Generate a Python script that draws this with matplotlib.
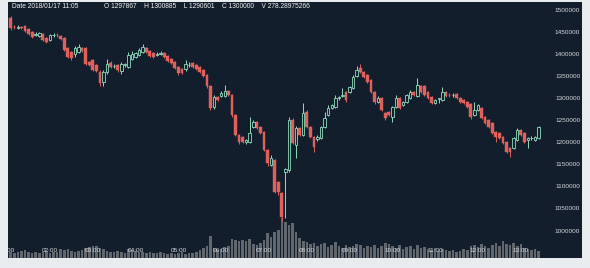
import numpy as np
import pandas as pd
import matplotlib
matplotlib.use("Agg")
import matplotlib.pyplot as plt

# ---------------- data (prices in thousands) ----------------
times = pd.date_range("2018-01-17 01:05", periods=149, freq="5min")

open_k = [1482, 1462, 1459, 1461, 1464, 1457, 1450, 1443, 1441, 1446,
          1437, 1432, 1443, 1444, 1441, 1437, 1414, 1405, 1400, 1405,
          1414, 1414, 1382, 1387, 1376, 1360, 1337, 1360, 1380, 1373,
          1376, 1362, 1376, 1371, 1389, 1394, 1398, 1405, 1414, 1407,
          1403, 1398, 1400, 1403, 1396, 1389, 1382, 1371, 1367, 1367,
          1375, 1380, 1376, 1371, 1364, 1353, 1328, 1281, 1303, 1305,
          1305, 1317, 1308, 1262, 1217, 1213, 1201, 1201, 1235, 1247,
          1235, 1224, 1183, 1149, 1161, 1111, 1086, 1134, 1138, 1251,
          1195, 1233, 1217, 1269, 1235, 1213, 1208, 1210, 1235, 1262,
          1278, 1281, 1301, 1305, 1315, 1315, 1324, 1351, 1369, 1360,
          1353, 1342, 1315, 1292, 1301, 1267, 1269, 1258, 1281, 1301,
          1285, 1292, 1301, 1315, 1305, 1328, 1328, 1315, 1303, 1290,
          1297.867, 1296, 1315, 1308, 1307, 1310, 1301, 1296, 1292, 1287,
          1262, 1274, 1278, 1258, 1251, 1244, 1224, 1222, 1213, 1201,
          1188, 1188, 1206, 1229, 1222, 1206, 1210, 1206, 1210]

close_k = [1459, 1461, 1461, 1460, 1452, 1446, 1439, 1445, 1448, 1432,
           1428, 1443, 1444, 1443, 1434, 1410, 1394, 1391, 1414, 1416,
           1407, 1378, 1376, 1364, 1362, 1335, 1360, 1378, 1371, 1374,
           1364, 1378, 1378, 1398, 1400, 1403, 1410, 1416, 1405, 1396,
           1394, 1400, 1403, 1394, 1385, 1380, 1369, 1358, 1358, 1378,
           1376, 1371, 1367, 1360, 1351, 1328, 1278, 1303, 1296, 1312,
           1317, 1308, 1262, 1217, 1201, 1201, 1206, 1222, 1247, 1233,
           1222, 1183, 1154, 1165, 1088, 1088, 1032, 1140, 1251, 1199,
           1233, 1217, 1267, 1235, 1213, 1190, 1213, 1235, 1256, 1278,
           1285, 1301, 1303, 1308, 1296, 1326, 1348, 1364, 1360, 1348,
           1337, 1315, 1292, 1301, 1274, 1256, 1262, 1281, 1301, 1278,
           1292, 1308, 1315, 1308, 1330, 1315, 1308, 1301, 1290, 1296,
           1300.000, 1315, 1305, 1307, 1308, 1301, 1292, 1290, 1281, 1258,
           1274, 1285, 1256, 1244, 1235, 1222, 1213, 1210, 1199, 1179,
           1179, 1210, 1229, 1217, 1201, 1210, 1211, 1213, 1235]

high_k = [1486, 1466, 1466, 1464, 1466, 1459, 1452, 1450, 1450, 1448,
          1439, 1446, 1448, 1448, 1443, 1439, 1416, 1407, 1419, 1423,
          1416, 1416, 1385, 1389, 1378, 1364, 1364, 1389, 1385, 1378,
          1378, 1382, 1380, 1405, 1407, 1405, 1414, 1423, 1416, 1410,
          1405, 1405, 1407, 1405, 1398, 1391, 1385, 1373, 1369, 1387,
          1382, 1382, 1378, 1373, 1367, 1355, 1330, 1308, 1305, 1317,
          1330, 1319, 1310, 1265, 1219, 1215, 1208, 1258, 1251, 1249,
          1238, 1226, 1185, 1172, 1163, 1113, 1088, 1143, 1258, 1256,
          1238, 1235, 1290, 1274, 1238, 1215, 1217, 1238, 1269, 1285,
          1287, 1308, 1305, 1324, 1317, 1328, 1353, 1373, 1378, 1362,
          1355, 1344, 1317, 1305, 1303, 1269, 1271, 1283, 1308, 1303,
          1294, 1310, 1319, 1317, 1346, 1330, 1330, 1317, 1305, 1299,
          1300.885, 1326, 1317, 1312, 1312, 1312, 1303, 1299, 1294, 1290,
          1292, 1287, 1281, 1260, 1253, 1247, 1226, 1224, 1215, 1204,
          1190, 1213, 1233, 1231, 1224, 1213, 1215, 1215, 1238]

low_k = [1455, 1457, 1457, 1457, 1450, 1443, 1437, 1441, 1439, 1430,
         1425, 1430, 1439, 1439, 1432, 1407, 1391, 1387, 1394, 1403,
         1405, 1376, 1373, 1362, 1360, 1328, 1328, 1355, 1369, 1369,
         1360, 1355, 1371, 1369, 1387, 1391, 1396, 1403, 1403, 1394,
         1391, 1396, 1398, 1391, 1382, 1378, 1367, 1353, 1355, 1362,
         1371, 1369, 1364, 1358, 1348, 1324, 1274, 1276, 1294, 1303,
         1303, 1305, 1258, 1215, 1197, 1199, 1197, 1199, 1233, 1231,
         1219, 1181, 1147, 1147, 1086, 1082, 1023, 1030, 1133, 1197,
         1165, 1215, 1215, 1233, 1210, 1179, 1204, 1208, 1233, 1260,
         1276, 1278, 1296, 1303, 1292, 1312, 1321, 1348, 1358, 1346,
         1335, 1312, 1287, 1290, 1271, 1251, 1260, 1247, 1278, 1276,
         1283, 1290, 1299, 1305, 1303, 1312, 1305, 1299, 1287, 1287,
         1290.601, 1294, 1303, 1303, 1303, 1299, 1290, 1287, 1278, 1253,
         1260, 1271, 1253, 1242, 1233, 1219, 1201, 1208, 1197, 1176,
         1167, 1185, 1204, 1215, 1199, 1188, 1206, 1204, 1208]

volume = [220, 190, 220, 260, 300, 220, 190, 220,
          190, 220, 260, 190, 220, 220, 330, 300, 330, 260,
          220, 260, 300, 370, 410, 440, 440, 370, 330,
          260, 220, 220, 260, 220, 190, 330, 300, 260, 220, 220,
          190, 220, 190, 190, 220, 190,
          150, 190, 150, 190, 220, 150, 190, 190, 220, 300, 370,
          440, 810, 370, 300, 330, 410, 440,
          700, 670, 630, 670, 630, 700, 520, 480, 550, 670,
          920, 780, 960, 1040, 1480, 1330, 1220, 1300,
          960, 740, 630, 590, 520, 550, 440, 520, 550, 410,
          480, 590, 440, 370, 480, 410, 440, 520, 480, 370,
          440, 410, 480, 370, 440, 550, 520, 440, 370, 480,
          330, 410, 440, 330, 480, 370, 410, 330, 300, 370,
          278.28975266, 330, 300, 260, 300, 220, 260, 330, 300, 440,
          480, 410, 520, 440, 370, 480, 550, 440, 630, 520,
          480, 550, 440, 520, 370, 330, 300, 330, 260]

price_ticks_k = [1000, 1050, 1100, 1150, 1200, 1250, 1300, 1350, 1400, 1450, 1500]
time_ticks = ["01:00", "02:00", "03:00", "04:00", "05:00", "06:00", "07:00",
              "08:00", "09:00", "10:00", "11:00", "12:00", "13:00"]

header_date = "Date 2018/01/17 11:05"
header_ohlcv = "O 1297867    H 1300885    L 1290601    C 1300000    V 278.28975266"

# ---------------- style ----------------
BG_OUT = "#e9ecef"
BG_PANEL = "#131e2c"
RED = "#e0615b"
GREEN = "#8fdcbc"
VOLC = "#62676e"
TXT = "#d4d8dd"
FONT = "Liberation Sans"

W, H = 590, 268
fig = plt.figure(figsize=(W / 100, H / 100), dpi=100, facecolor=BG_OUT)
rect = [8 / W, 10 / H, 574 / W, 256 / H]

axv = fig.add_axes(rect)
ax = fig.add_axes(rect)
axv.set_facecolor(BG_PANEL)
ax.patch.set_visible(False)

t = np.array([ts.hour + ts.minute / 60 for ts in times])
o = np.array(open_k) * 1000
c = np.array(close_k) * 1000
hi = np.array(high_k) * 1000
lo = np.array(low_k) * 1000
up = c >= o

xl = (1.0187, 14.43)
ax.set_xlim(*xl)
axv.set_xlim(*xl)
ax.set_ylim(939000, 1518100)
axv.set_ylim(0, 9500)

# volume
axv.bar(t, volume, width=0.06, color=VOLC, linewidth=0)

# candles
wc = np.where(up, GREEN, RED)
ax.vlines(t, lo, hi, colors=wc, linewidth=0.7, zorder=2)
body_bottom = np.minimum(o, c)
body_h = np.maximum(np.abs(c - o), 700)
ax.bar(t[~up], body_h[~up], bottom=body_bottom[~up], width=0.064,
       color=RED, edgecolor=RED, linewidth=0.3, zorder=3)
ax.bar(t[up], body_h[up], bottom=body_bottom[up], width=0.058,
       color=BG_PANEL, edgecolor=GREEN, linewidth=0.6, zorder=3)

for a in (ax, axv):
    a.set_xticks([])
    a.set_yticks([])
    for s in a.spines.values():
        s.set_visible(False)

# y labels on the right, inside panel
for p in price_ticks_k:
    ax.text(xl[1] - 0.04, p * 1000, f"{p * 1000:d}", ha="right", va="center",
            fontsize=4.6, color=TXT, family=FONT, clip_on=True)

# x labels inside bottom of panel
for lab in time_ticks:
    hh = int(lab[:2])
    ax.text(hh, 956000, lab, ha="center", va="center", fontsize=4.6,
            color=TXT, family=FONT, clip_on=True)

# header
ax.text(0.007, 0.982, header_date, transform=ax.transAxes, ha="left", va="center",
        fontsize=4.8, color="#f2f2f2", family=FONT)
ax.text(0.168, 0.982, header_ohlcv, transform=ax.transAxes, ha="left", va="center",
        fontsize=4.8, color="#f2f2f2", family=FONT)

fig.savefig("out.png", dpi=100, facecolor=BG_OUT)
